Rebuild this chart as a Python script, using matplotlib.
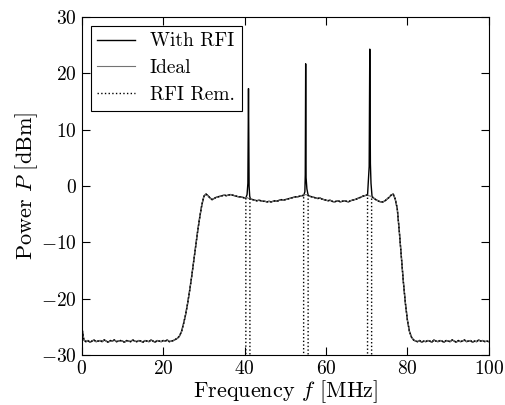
import numpy as np
import matplotlib
matplotlib.use("Agg")
import matplotlib.pyplot as plt

plt.rcParams['font.family'] = ['cmr10', 'DejaVu Serif']
plt.rcParams['mathtext.fontset'] = 'cm'
plt.rcParams['axes.formatter.use_mathtext'] = True
plt.rcParams['font.size'] = 14

# sample grid, 0.5 MHz steps from 0 to 100 MHz
freq = np.arange(0, 100.5, 0.5)

# ideal spectrum (dBm)
ideal = [
    -25.0, -27.3, -27.6, -27.4, -27.7, -27.5, -27.3, -27.6, -27.5, -27.4,
    -27.6, -27.3, -27.5, -27.7, -27.4, -27.5, -27.3, -27.6, -27.5, -27.4,
    -27.5, -27.7, -27.4, -27.5, -27.6, -27.3, -27.5, -27.6, -27.4, -27.5,
    -27.7, -27.4, -27.5, -27.6, -27.3, -27.5, -27.7, -27.4, -27.5, -27.6,
    -27.4, -27.5, -27.3, -27.6, -27.5, -27.4, -27.2, -27.0, -26.6, -25.8,
    -24.4, -22.8, -20.8, -18.5, -16.0, -13.3, -10.5, -7.8, -5.4, -3.3,
    -1.8, -1.4, -1.7, -2.1, -2.4, -2.2, -2.0, -1.9, -1.8, -1.7,
    -1.6, -1.7, -1.6, -1.5, -1.6, -1.7, -1.8, -1.9, -1.9, -2.0,
    -2.1, -2.0, -2.2, -2.3, -2.4, -2.5, -2.6, -2.5, -2.6, -2.7,
    -2.7, -2.8, -2.7, -2.8, -2.7, -2.6, -2.7, -2.5, -2.4, -2.5,
    -2.4, -2.3, -2.2, -2.1, -2.0, -1.9, -1.9, -1.8, -1.7, -1.6,
    -1.5, -1.6, -1.8, -1.9, -2.0, -2.1, -2.2, -2.1, -2.3, -2.4,
    -2.5, -2.6, -2.5, -2.7, -2.8, -2.7, -2.6, -2.8, -2.7, -2.6,
    -2.7, -2.8, -2.6, -2.5, -2.4, -2.3, -2.1, -2.0, -1.8, -1.7,
    -1.6, -1.7, -1.8, -2.0, -2.3, -2.5, -2.7, -2.8, -2.8, -2.6,
    -2.3, -2.0, -1.6, -1.4, -2.3, -4.0, -8.0, -12.5, -17.0, -20.8,
    -23.8, -25.8, -26.8, -27.3, -27.5, -27.6, -27.4, -27.7, -27.5, -27.6,
    -27.4, -27.5, -27.7, -27.3, -27.5, -27.6, -27.4, -27.5, -27.7, -27.4,
    -27.5, -27.6, -27.3, -27.5, -27.7, -27.4, -27.6, -27.5, -27.3, -27.6,
    -27.5, -27.4, -27.7, -27.5, -27.6, -27.3, -27.5, -27.4, -27.6, -27.5,
    -27.6,
]

# interferer spikes
spike1_f = [40.3, 40.6, 40.8, 40.95, 41.1, 41.25, 41.4]
spike1_p = [-2.1, -1.5, 0.5, 17.3, 0.0, -1.8, -2.2]
spike2_f = [54.5, 54.8, 54.9, 55.0, 55.1, 55.3, 55.6]
spike2_p = [-1.7, -1.0, 2.0, 21.7, 1.5, -0.5, -1.6]
spike3_f = [70.2, 70.45, 70.6, 70.75, 70.9, 71.05, 71.3]
spike3_p = [-1.6, 1.5, 3.5, 24.3, 4.0, 0.5, -1.8]

# removed bands
notch_lo = [40.3, 54.5, 70.2]
notch_hi = [41.3, 55.6, 71.2]

ideal = np.array(ideal)

# with RFI: ideal outside the spike windows plus the spike points
spikes = [(spike1_f, spike1_p), (spike2_f, spike2_p), (spike3_f, spike3_p)]
keep = np.ones(len(freq), bool)
for sf, sp in spikes:
    keep &= ~((freq >= sf[0]) & (freq <= sf[-1]))
rfi_f = np.concatenate([freq[keep]] + [np.array(sf) for sf, sp in spikes])
rfi_p = np.concatenate([ideal[keep]] + [np.array(sp) for sf, sp in spikes])
order = np.argsort(rfi_f, kind='stable')
rfi_f, rfi_p = rfi_f[order], rfi_p[order]

# RFI removed: ideal with the bands cut down to the floor
rem_f, rem_p = [], []
for f, p in zip(freq, ideal):
    for lo, hi in zip(notch_lo, notch_hi):
        if lo <= f <= hi:
            break
    else:
        for lo, hi in zip(notch_lo, notch_hi):
            if rem_f and rem_f[-1] < lo and f > hi:
                v_lo = np.interp(lo, freq, ideal)
                v_hi = np.interp(hi, freq, ideal)
                rem_f += [lo, lo, hi, hi]
                rem_p += [v_lo, -40, -40, v_hi]
        rem_f.append(f)
        rem_p.append(p)

fig = plt.figure(figsize=(5.05, 4.05), dpi=100)
ax = fig.add_axes([0.162, 0.123, 0.806, 0.835])

ax.plot(rfi_f, rfi_p, color='black', lw=1.0, label='With RFI')
ax.plot(freq, ideal, color='0.45', lw=0.8, label='Ideal')
ax.plot(rem_f, rem_p, color='black', lw=1.0, ls=':', label='RFI Rem.')

ax.set_xlim(0, 100)
ax.set_ylim(-30, 30)
ax.set_xticks([0, 20, 40, 60, 80, 100])
ax.set_yticks([-30, -20, -10, 0, 10, 20, 30])
ax.tick_params(direction='in', top=True, right=True, length=6, width=0.8)
ax.set_xlabel('Frequency $f$ [MHz]', fontsize=16, labelpad=0)
ax.set_ylabel('Power $P$ [dBm]', fontsize=16, labelpad=1)

leg = ax.legend(loc='upper left', fancybox=False, edgecolor='black',
                framealpha=1, handlelength=1.95, handletextpad=0.75,
                borderpad=0.35, labelspacing=0.45, borderaxespad=0.45)
leg.get_frame().set_linewidth(0.8)

fig.savefig('out.png', dpi=100)
